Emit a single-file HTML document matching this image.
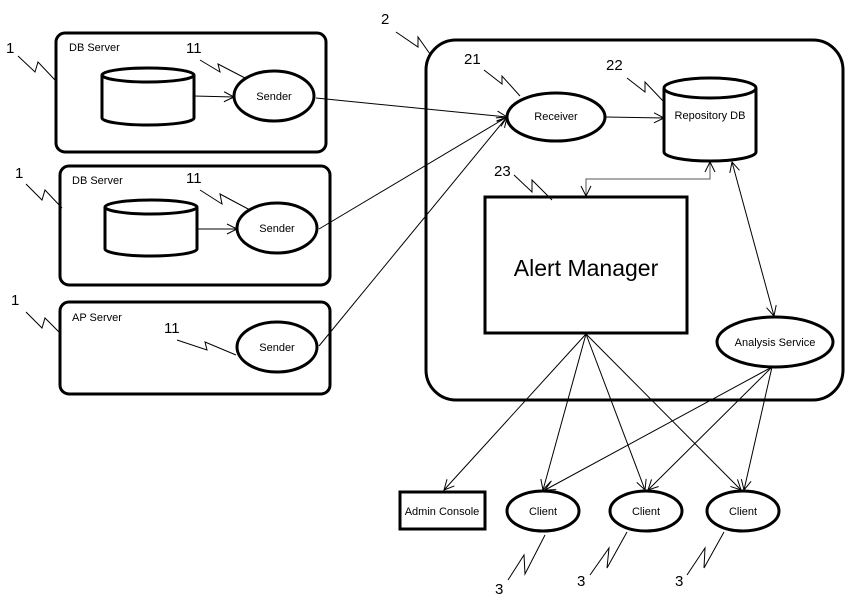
<!DOCTYPE html>
<html><head><meta charset="utf-8"><style>
html,body{margin:0;padding:0;background:#fff;}
svg{display:block;font-family:"Liberation Sans",sans-serif;}
</style></head><body>
<svg width="862" height="602" viewBox="0 0 862 602" xmlns="http://www.w3.org/2000/svg">
<defs>
<marker id="a" viewBox="0 0 12 12" refX="11" refY="6" markerWidth="12" markerHeight="12" markerUnits="userSpaceOnUse" orient="auto-start-reverse">
<path d="M1,1 L11,6 L1,11" fill="none" stroke="#000" stroke-width="1"/></marker>
</defs>
<g fill="none" stroke="#000">
<!-- server boxes -->
<rect x="56" y="33" width="270" height="119" rx="9" stroke-width="3"/>
<rect x="60" y="166" width="270" height="119" rx="9" stroke-width="3"/>
<rect x="60" y="302" width="270" height="92" rx="9" stroke-width="3"/>
<!-- cylinders -->
<path d="M102,75 L102,118 A46,7 0 0 0 194,118 L194,75" stroke-width="3" fill="#fff"/>
<ellipse cx="148" cy="75" rx="46" ry="7" stroke-width="3"/>
<path d="M105,207 L105,249 A46,7 0 0 0 197,249 L197,207" stroke-width="3" fill="#fff"/>
<ellipse cx="151" cy="207" rx="46" ry="7" stroke-width="3"/>
<!-- senders -->
<ellipse cx="274" cy="96" rx="40" ry="25" stroke-width="3"/>
<ellipse cx="277" cy="228" rx="40" ry="25" stroke-width="3"/>
<ellipse cx="277" cy="347" rx="40" ry="25" stroke-width="3"/>
<line x1="194" y1="96" x2="234" y2="97" marker-end="url(#a)"/>
<line x1="197" y1="229" x2="237" y2="229" marker-end="url(#a)"/>
<!-- big box -->
<rect x="426" y="40" width="417" height="360" rx="30" stroke-width="3"/>
<ellipse cx="556" cy="117" rx="49" ry="24" stroke-width="3"/>
<path d="M664,88 L664,152 A46,9 0 0 0 756,152 L756,88" stroke-width="3" fill="#fff"/>
<ellipse cx="710" cy="88" rx="46" ry="10" stroke-width="3"/>
<rect x="485" y="197" width="202" height="136" stroke-width="3"/>
<ellipse cx="775" cy="342" rx="58" ry="25" stroke-width="3"/>
<!-- sender to receiver -->
<line x1="316" y1="98" x2="507" y2="117" marker-end="url(#a)"/>
<line x1="319" y1="229" x2="507" y2="117" marker-end="url(#a)"/>
<line x1="319" y1="346" x2="507" y2="117" marker-end="url(#a)"/>
<line x1="605" y1="117" x2="664" y2="118" marker-end="url(#a)"/>
<polyline points="586,196 586,179 710,179 710,162" stroke="#555" marker-start="url(#a)" marker-end="url(#a)"/>
<line x1="732" y1="162" x2="774" y2="316" marker-start="url(#a)" marker-end="url(#a)"/>
<!-- bottom -->
<rect x="400" y="492" width="85" height="37" stroke-width="3"/>
<ellipse cx="543" cy="511" rx="36" ry="20" stroke-width="3"/>
<ellipse cx="646" cy="511" rx="36" ry="20" stroke-width="3"/>
<ellipse cx="743" cy="511" rx="36" ry="20" stroke-width="3"/>
<line x1="586" y1="334" x2="444" y2="490" marker-end="url(#a)"/>
<line x1="586" y1="334" x2="543" y2="490" marker-end="url(#a)"/>
<line x1="586" y1="334" x2="645" y2="490" marker-end="url(#a)"/>
<line x1="586" y1="334" x2="741" y2="490" marker-end="url(#a)"/>
<line x1="772" y1="367" x2="545" y2="490" marker-end="url(#a)"/>
<line x1="772" y1="367" x2="648" y2="490" marker-end="url(#a)"/>
<line x1="772" y1="367" x2="744" y2="490" marker-end="url(#a)"/>
<!-- squiggles -->
<g stroke-width="1">
<polyline points="18,56 35,72 38,62 55,80"/>
<polyline points="26,184 42,200 45,190 62,208"/>
<polyline points="26,312 42,328 45,318 60,333"/>
<polyline points="200,60 220,72 218,64 245,78"/>
<polyline points="200,190 222,204 220,194 250,210"/>
<polyline points="177,340 207,350 205,342 236,355"/>
<polyline points="396,32 418,47 418,37 430,54"/>
<polyline points="484,70 502,84 502,76 520,96"/>
<polyline points="627,78 645,92 645,82 664,102"/>
<polyline points="514,175 532,192 532,180 552,200"/>
<polyline points="508,580 524,555 525,574 545,535"/>
<polyline points="590,575 609,548 607,568 627,532"/>
<polyline points="687,575 705,548 704,568 724,532"/>
</g>
</g>
<g fill="#000" font-size="11">
<text x="69" y="51">DB Server</text>
<text x="72" y="184">DB Server</text>
<text x="72" y="321">AP Server</text>
<text x="274" y="100" text-anchor="middle">Sender</text>
<text x="277" y="232" text-anchor="middle">Sender</text>
<text x="277" y="351" text-anchor="middle">Sender</text>
<text x="556" y="120" text-anchor="middle">Receiver</text>
<text x="710" y="119" text-anchor="middle">Repository DB</text>
<text x="775" y="346" text-anchor="middle">Analysis Service</text>
<text x="442" y="515" text-anchor="middle">Admin Console</text>
<text x="543" y="515" text-anchor="middle">Client</text>
<text x="646" y="515" text-anchor="middle">Client</text>
<text x="743" y="515" text-anchor="middle">Client</text>
<text x="586" y="276" text-anchor="middle" font-size="23">Alert Manager</text>
<g font-size="15">
<text x="6" y="53">1</text>
<text x="15" y="178">1</text>
<text x="11" y="305">1</text>
<text x="186" y="53">11</text>
<text x="186" y="183">11</text>
<text x="164" y="333">11</text>
<text x="381" y="24">2</text>
<text x="464" y="64">21</text>
<text x="606" y="70">22</text>
<text x="494" y="176">23</text>
<text x="495" y="594">3</text>
<text x="577" y="586">3</text>
<text x="675" y="586">3</text>
</g>
</g>
</svg>
</body></html>
